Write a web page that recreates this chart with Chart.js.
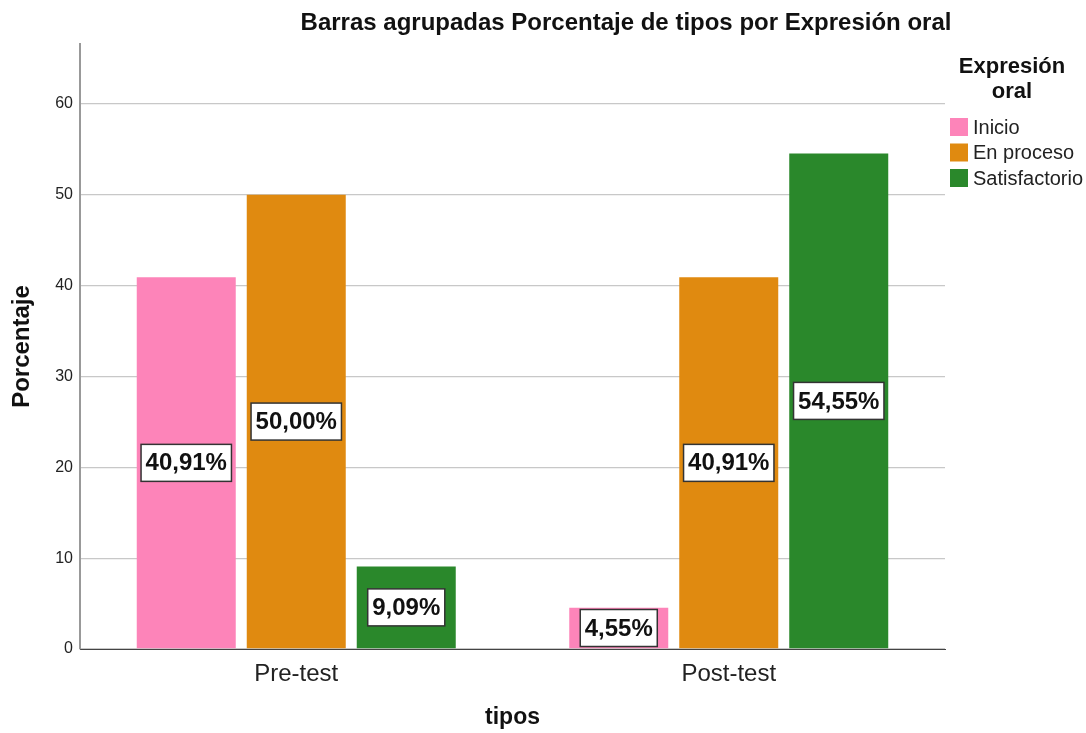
<!DOCTYPE html>
<html>
<head>
<meta charset="utf-8">
<script src="https://cdn.jsdelivr.net/npm/chart.js@4.4.1/dist/chart.umd.min.js"></script>
<style>
  body { margin: 0; background: #fff; }
  canvas { display: block; }
</style>
</head>
<body>
<canvas id="grafico" width="1086" height="733"></canvas>
<script>
// datos
var categorias = ['Pre-test', 'Post-test'];
var niveles = ['Inicio', 'En proceso', 'Satisfactorio'];
var inicio = [40.91, 4.55];
var enProceso = [50.00, 40.91];
var satisfactorio = [9.09, 54.55];
var ticksY = [0, 10, 20, 30, 40, 50, 60];
var colores = ['#fd84b9', '#e08a10', '#2a882b'];

var fuente = "'Liberation Sans', Arial, sans-serif";
Chart.defaults.font.family = fuente;
Chart.defaults.color = '#222';

// etiquetas con caja blanca en el centro de cada barra
var etiquetas = {
    id: 'etiquetas',
    afterDatasetsDraw: function(chart) {
        var ctx = chart.ctx;
        ctx.save();
        ctx.font = 'bold 24px ' + fuente;
        ctx.textAlign = 'center';
        ctx.textBaseline = 'middle';
        chart.data.datasets.forEach(function(ds, i) {
            chart.getDatasetMeta(i).data.forEach(function(bar, j) {
                var txt = ds.data[j].toFixed(2).replace('.', ',') + '%';
                var w = ctx.measureText(txt).width + 9;
                var h = 37;
                var cy = (bar.y + bar.base) / 2;
                ctx.fillStyle = '#fff';
                ctx.fillRect(bar.x - w / 2, cy - h / 2, w, h);
                ctx.strokeStyle = '#333';
                ctx.lineWidth = 1.5;
                ctx.strokeRect(bar.x - w / 2, cy - h / 2, w, h);
                ctx.fillStyle = '#111';
                ctx.fillText(txt, bar.x, cy + 1);
            });
        });
        ctx.restore();
    }
};

// titulo y leyenda a la derecha
var extras = {
    id: 'extras',
    afterDraw: function(chart) {
        var ctx = chart.ctx;
        ctx.save();
        ctx.fillStyle = '#111';
        ctx.textAlign = 'center';
        ctx.textBaseline = 'middle';
        ctx.font = 'bold 24px ' + fuente;
        ctx.fillText('Barras agrupadas Porcentaje de tipos por Expresión oral', 626, 23);

        ctx.font = 'bold 22px ' + fuente;
        ctx.fillText('Expresión', 1012, 67);
        ctx.fillText('oral', 1012, 92);

        ctx.textAlign = 'left';
        ctx.font = '20px ' + fuente;
        chart.data.datasets.forEach(function(ds, i) {
            var y = 127 + i * 25.5;
            ctx.fillStyle = ds.backgroundColor;
            ctx.fillRect(950, y - 9, 18, 18);
            ctx.fillStyle = '#222';
            ctx.fillText(ds.label, 973, y + 1);
        });
        ctx.restore();
    }
};

var ctx = document.getElementById('grafico').getContext('2d');

var chart = new Chart(ctx, {
    type: 'bar',
    data: {
        labels: categorias,
        datasets: [{
            label: niveles[0],
            backgroundColor: colores[0],
            data: inicio
        }, {
            label: niveles[1],
            backgroundColor: colores[1],
            data: enProceso
        }, {
            label: niveles[2],
            backgroundColor: colores[2],
            data: satisfactorio
        }]
    },
    options: {
        responsive: false,
        animation: false,
        categoryPercentage: 0.763,
        barPercentage: 0.9,
        layout: { padding: { top: 44, right: 141, left: 0, bottom: 0 } },
        plugins: {
            legend: { display: false },
            title: { display: false },
            tooltip: { enabled: false }
        },
        scales: {
            x: {
                grid: { display: false, drawTicks: false },
                border: { display: true, color: '#444', width: 1 },
                ticks: { font: { size: 24 }, color: '#222', padding: 11 },
                title: {
                    display: true,
                    text: 'tipos',
                    font: { size: 23, weight: 'bold' },
                    color: '#111',
                    padding: { top: 0, bottom: 2 }
                },
                afterFit: function(scale) { scale.height = 84; }
            },
            y: {
                min: 0,
                max: 66.6,
                afterBuildTicks: function(scale) {
                    scale.ticks = ticksY.map(function(v) { return { value: v }; });
                },
                grid: { color: '#c8c8c8', lineWidth: 1.3, drawTicks: false },
                border: { display: true, color: '#999', width: 2 },
                ticks: { font: { size: 16 }, color: '#222', padding: 7 },
                title: {
                    display: true,
                    text: 'Porcentaje',
                    font: { size: 24, weight: 'bold' },
                    color: '#111',
                    padding: { top: 8, bottom: 0 }
                },
                afterFit: function(scale) { scale.width = 80; }
            }
        }
    },
    plugins: [etiquetas, extras]
});
</script>
</body>
</html>
